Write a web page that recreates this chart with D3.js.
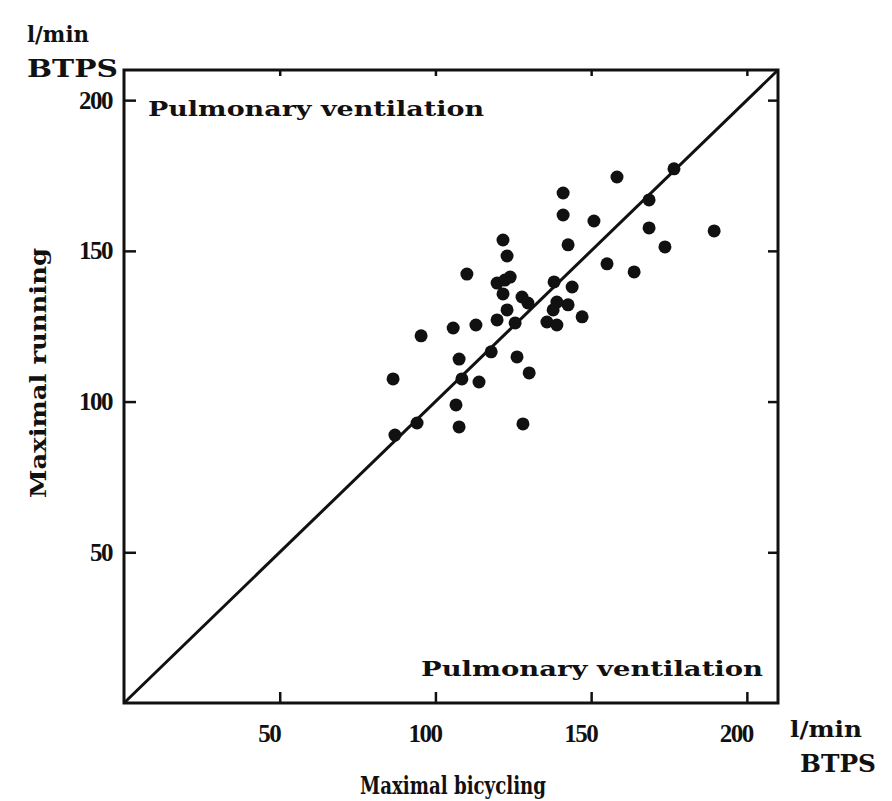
<!DOCTYPE html>
<html>
<head>
<meta charset="utf-8">
<script src="https://cdn.jsdelivr.net/npm/d3@7"></script>
<style>
  body { margin: 0; background: #fff; }
  svg text { fill: #111; }
</style>
</head>
<body>
<div id="chart"></div>
<script>
// maximal ventilation, l/min BTPS
const bicycling = [158.3, 141.0, 141.0, 150.9, 121.7, 142.6, 123.0, 110.1, 155.1, 124.0,
  119.8, 122.3, 138.1, 143.9, 121.7, 127.8, 129.7, 139.0, 142.6, 123.0,
  137.8, 119.8, 125.6, 135.8, 139.0, 147.1, 105.7, 113.0, 95.4, 117.9,
  107.6, 126.2, 130.1, 86.4, 108.5, 114.0, 106.6, 94.1, 107.6, 128.1,
  87.0, 176.6, 168.6, 168.6, 189.5, 173.7, 163.8]
const running = [174.5, 169.2, 161.9, 159.9, 153.6, 152.0, 148.3, 142.3, 145.7, 141.3,
  139.3, 140.3, 139.7, 138.0, 135.7, 134.7, 132.7, 133.0, 132.1, 130.4,
  130.4, 127.1, 126.1, 126.4, 125.4, 128.1, 124.4, 125.4, 121.8, 116.5,
  114.1, 114.8, 109.5, 107.5, 107.5, 106.5, 98.9, 92.9, 91.6, 92.6,
  88.9, 177.2, 166.9, 157.6, 156.6, 151.3, 143.0]
const ticks = [50, 100, 150, 200]
const identity = [0, 210]

const w = 892, h = 801
const m = { left: 124, right: 778, top: 70, bottom: 703 }
const serif = '"DejaVu Serif", "Liberation Serif", serif'

const svg = d3.select('#chart').append('svg')
    .attr('width', w)
    .attr('height', h)

const x = d3.scaleLinear().domain([0, 210]).range([m.left, m.right])
const y = d3.scaleLinear().domain([0, 210]).range([m.bottom, m.top])

// frame
svg.append('rect')
    .attr('x', m.left).attr('y', m.top)
    .attr('width', m.right - m.left).attr('height', m.bottom - m.top)
    .attr('fill', 'none').attr('stroke', '#111').attr('stroke-width', 3)

// axes with inward ticks
let styleAxis = g => {
    g.select('.domain').remove()
    g.selectAll('line').attr('stroke', '#111').attr('stroke-width', 2.5)
    g.selectAll('text')
        .attr('font-family', '"Liberation Serif", serif')
        .attr('font-weight', 'bold')
        .attr('font-size', 25)
        .attr('letter-spacing', -1.5)
        .attr('fill', '#111')
}
svg.append('g')
    .attr('transform', `translate(0,${m.bottom})`)
    .call(d3.axisBottom(x).tickValues(ticks).tickSize(-11).tickPadding(21))
    .call(styleAxis)
    .selectAll('text').attr('dx', -11)
svg.append('g')
    .attr('transform', `translate(${m.left},0)`)
    .call(d3.axisLeft(y).tickValues(ticks).tickSize(-12).tickPadding(12))
    .call(styleAxis)
svg.append('g')
    .attr('transform', `translate(0,${m.top})`)
    .call(d3.axisTop(x).tickValues(ticks).tickSize(-6).tickFormat(''))
    .call(styleAxis)
svg.append('g')
    .attr('transform', `translate(${m.right},0)`)
    .call(d3.axisRight(y).tickValues(ticks).tickSize(-10).tickFormat(''))
    .call(styleAxis)

// line of identity
svg.append('path')
    .attr('d', d3.line().x(d => x(d)).y(d => y(d))(identity))
    .attr('stroke', '#111')
    .attr('stroke-width', 3)
    .attr('fill', 'none')

// points
svg.append('g')
    .selectAll('circle')
    .data(bicycling.map((b, i) => [b, running[i]]))
    .enter()
    .append('circle')
    .attr('cx', d => x(d[0]))
    .attr('cy', d => y(d[1]))
    .attr('r', 6.5)
    .attr('fill', '#111')

// labels
let label = (txt, px, py, opts = {}) => {
    let t = svg.append('text')
        .text(txt)
        .attr('x', px).attr('y', py)
        .attr('font-family', serif)
        .attr('font-weight', 'bold')
        .attr('font-size', opts.size || 21)
        .attr('text-anchor', opts.anchor || 'start')
    if (opts.len) t.attr('textLength', opts.len).attr('lengthAdjust', 'spacingAndGlyphs')
    if (opts.rotate) t.attr('transform', `rotate(-90,${px},${py})`)
    return t
}
label('Pulmonary ventilation', 148, 116, { len: 336 })
label('Pulmonary ventilation', 421, 676, { len: 342 })
label('l/min', 27, 42, { size: 23, len: 62 })
label('BTPS', 27, 77, { size: 25, len: 91 })
label('l/min', 790, 737, { size: 23, len: 72 })
label('BTPS', 800, 772, { size: 25, len: 76 })
label('Maximal bicycling', 360, 794, { size: 24, len: 186 })
label('Maximal running', 46, 498, { size: 23, len: 250, rotate: true })
</script>
</body>
</html>
